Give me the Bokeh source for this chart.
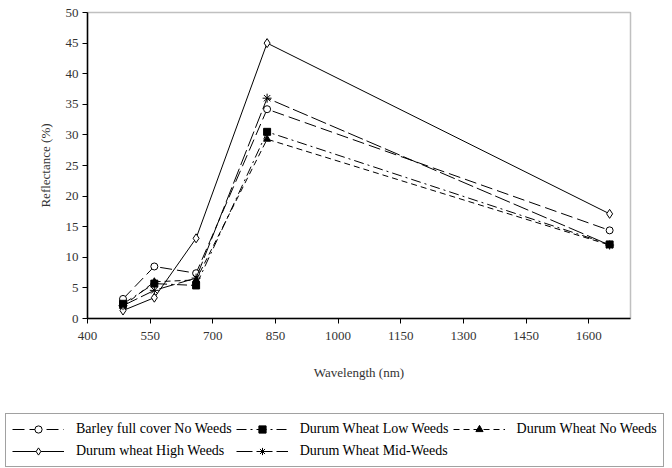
from bokeh.plotting import figure
from bokeh.models import Legend, LegendItem, Range1d, FixedTicker
from bokeh.layouts import column
from bokeh.embed import file_html
from bokeh.resources import INLINE

wavelength = [485, 560, 660, 830, 1650]
barley_no_weeds = [3.2, 8.5, 7.4, 34.2, 14.4]
durum_low_weeds = [2.4, 5.7, 5.4, 30.5, 12.1]
durum_no_weeds = [2.0, 6.0, 6.3, 29.3, 12.0]
durum_high_weeds = [1.3, 3.4, 13.1, 45.0, 17.1]
durum_mid_weeds = [2.1, 4.6, 6.6, 36.0, 12.0]
labels = ["Barley full cover No Weeds", "Durum Wheat Low Weeds", "Durum Wheat No Weeds",
          "Durum wheat High Weeds", "Durum Wheat Mid-Weeds"]
x_ticks = [400, 550, 700, 850, 1000, 1150, 1300, 1450, 1600]
y_ticks = [0, 5, 10, 15, 20, 25, 30, 35, 40, 45, 50]

FONT = "Liberation Serif"
TXT = "#333333"

p = figure(width=672, height=400, output_backend="svg", toolbar_location=None,
           x_range=Range1d(400, 1700), y_range=Range1d(0, 50),
           min_border_left=87, min_border_right=42, min_border_top=12, min_border_bottom=82)
p.frame_align = False
p.xgrid.visible = False
p.ygrid.visible = False
p.outline_line_color = "#c0c0c0"
p.outline_line_width = 1.5
p.background_fill_color = "white"
p.border_fill_color = "white"

for ax in (p.xaxis[0], p.yaxis[0]):
    ax.axis_line_color = "black"
    ax.axis_line_width = 1.5
    ax.major_tick_line_color = "black"
    ax.major_tick_line_width = 1
    ax.major_tick_out = 5
    ax.major_tick_in = 0
    ax.minor_tick_line_color = None
    ax.major_label_text_font = FONT
    ax.major_label_text_font_size = "13px"
    ax.major_label_text_color = TXT
    ax.axis_label_text_font = FONT
    ax.axis_label_text_font_size = "13px"
    ax.axis_label_text_font_style = "normal"
    ax.axis_label_text_color = TXT

p.xaxis.ticker = FixedTicker(ticks=x_ticks)
p.yaxis.ticker = FixedTicker(ticks=y_ticks)
p.xaxis.axis_label = "Wavelength (nm)"
p.yaxis.axis_label = "Reflectance (%)"
p.xaxis.axis_label_standoff = 22
p.yaxis.axis_label_standoff = 10
p.xaxis.major_label_standoff = 8
p.yaxis.major_label_standoff = 4

series = [
    (barley_no_weeds, "12 5", "circle", "white"),
    (durum_low_weeds, "10 4 2 4", "square", "black"),
    (durum_no_weeds, "6 4", "triangle", "black"),
    (durum_high_weeds, "solid", "diamond", "white"),
    (durum_mid_weeds, "16 4", "asterisk", "black"),
]

# legend panel below the chart
lf = figure(width=672, height=68, output_backend="svg", toolbar_location=None,
            x_range=Range1d(0, 1), y_range=Range1d(0, 1),
            x_axis_type=None, y_axis_type=None,
            min_border_left=0, min_border_right=0, min_border_top=0, min_border_bottom=0)
lf.frame_align = False
lf.xgrid.visible = False
lf.ygrid.visible = False
lf.outline_line_color = None
lf.border_fill_color = "white"

items = []
for vals, dash, marker, fill in series:
    sz = 9 if marker in ("diamond", "asterisk") else 7
    p.line(wavelength, vals, line_color="black", line_width=1, line_dash=dash)
    p.scatter(wavelength, vals, marker=marker, size=sz, line_color="black",
              fill_color=fill, line_width=1)
    dl = lf.line([-5, -4], [-5, -4], line_color="black", line_width=1, line_dash=dash)
    dm = lf.scatter([-5], [-5], marker=marker, size=sz, line_color="black",
                    fill_color=fill, line_width=1)
    items.append((dl, dm))

legend = Legend(
    items=[LegendItem(label=lab, renderers=[ln, mk]) for lab, (ln, mk) in zip(labels, items)],
    orientation="horizontal", ncols=3, location=(5, 1),
    label_text_font=FONT, label_text_font_size="14px", label_text_color="black",
    border_line_color="#444444", border_line_width=1.5,
    glyph_width=52, glyph_height=18, label_standoff=12, spacing=4,
    padding=6, margin=0, label_height=18,
)
lf.add_layout(legend, "center")

open("out.html", "w").write(file_html(column(p, lf, spacing=0), INLINE))
